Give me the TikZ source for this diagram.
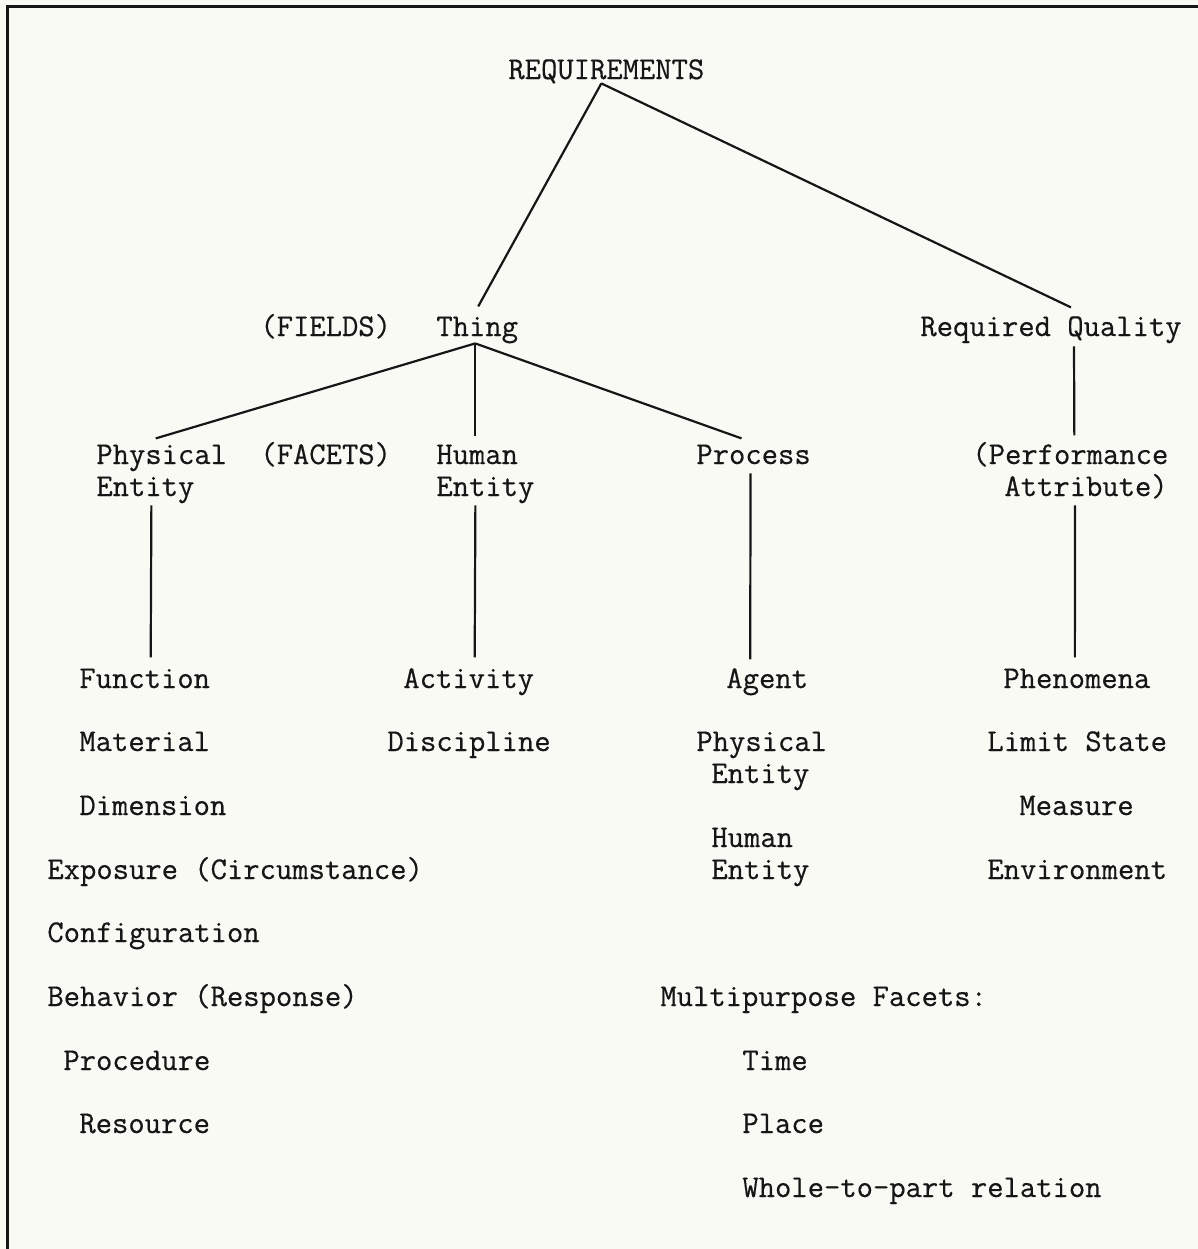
\documentclass[tikz,border=0pt]{standalone}
\usepackage{fontspec}
\newfontfamily\typew[FakeBold=0.5]{Latin Modern Mono}
\definecolor{ink}{RGB}{22,22,22}
\definecolor{paper}{RGB}{250,250,245}
\begin{document}
\begin{tikzpicture}[x=0.5pt,y=-0.5pt,
  lbl/.style={font=\typew\fontsize{15.85pt}{16pt}\selectfont, inner sep=0pt,
    anchor=base west, text height=9.6pt, text depth=0pt, text=ink},
  link/.style={draw=ink, line width=1.1pt},
  frame/.style={draw=ink, line width=1.5pt}]
\fill[paper] (0,0) rectangle (1198,1249);
\useasboundingbox (0,0) rectangle (1198,1249);
\draw[frame] (7,1249) -- (7,6) -- (1198,6);

% top levels
\node[lbl] (req) at (508,79) {REQUIREMENTS};
\node[lbl] (fields) at (260,336) {(FIELDS)};
\node[lbl] (thing) at (436,336) {Thing};
\node[lbl] (rq) at (920,336) {Required Quality};

\node[lbl] (pe1) at (96,464) {Physical};
\node[lbl] (pe2) at (96,496) {Entity};
\node[lbl] (facets) at (260,464) {(FACETS)};
\node[lbl] (he1) at (436,464) {Human};
\node[lbl] (he2) at (436,496) {Entity};
\node[lbl] (proc) at (696,464) {Process};
\node[lbl] (pa1) at (972,464) {(Performance};
\node[lbl] (pa2) at (1004,496) {Attribute)};

% column 1
\node[lbl] (func) at (79,688) {Function};
\node[lbl] (mat) at (79,751) {Material};
\node[lbl] (dim) at (79,815) {Dimension};
\node[lbl] (expo) at (47,879) {Exposure (Circumstance)};
\node[lbl] (conf) at (47,942) {Configuration};
\node[lbl] (beh) at (47,1006) {Behavior (Response)};
\node[lbl] (procd) at (63,1070) {Procedure};
\node[lbl] (res) at (79,1133) {Resource};

% column 2
\node[lbl] (act) at (403,688) {Activity};
\node[lbl] (disc) at (387,751) {Discipline};

% column 3
\node[lbl] (agent) at (726,688) {Agent};
\node[lbl] (ape1) at (696,751) {Physical};
\node[lbl] (ape2) at (711,783) {Entity};
\node[lbl] (ahe1) at (711,847) {Human};
\node[lbl] (ahe2) at (711,879) {Entity};

% column 4
\node[lbl] (phen) at (1003,688) {Phenomena};
\node[lbl] (lim) at (987,751) {Limit State};
\node[lbl] (meas) at (1019,815) {Measure};
\node[lbl] (env) at (987,879) {Environment};

% multipurpose
\node[lbl] (multi) at (660,1006) {Multipurpose Facets:};
\node[lbl] (time) at (742,1070) {Time};
\node[lbl] (place) at (742,1133) {Place};
\node[lbl] (whole) at (742,1197) {Whole-to-part relation};

% connectors
\draw[link] ([shift={(-5,4)}]req.south) -- ([shift={(1,-10)}]thing.north);
\draw[link] ([shift={(-5,4)}]req.south) -- ([shift={(20,-9)}]rq.north);
\draw[link] ([shift={(-2,7)}]thing.south) -- ([shift={(-6,-6)}]pe1.north);
\draw[link] ([shift={(-2,7)}]thing.south) -- ([shift={(-2,-8)}]he1.north);
\draw[link] ([shift={(-2,7)}]thing.south) -- ([shift={(-12,-6)}]proc.north);
\draw[link] ([shift={(23,10)}]rq.south) -- ([shift={(4,-9)}]pa1.north);
\draw[link] ([shift={(6,9)}]pe2.south) -- ([shift={(6,-11)}]func.north);
\draw[link] ([shift={(-10,9)}]he2.south) -- ([shift={(6,-11)}]act.north);
\draw[link] ([shift={(-3,9)}]proc.south) -- ([shift={(-17,-9)}]agent.north);
\draw[link] ([shift={(-11,9)}]pa2.south) -- ([shift={(-2,-11)}]phen.north);
\end{tikzpicture}
\end{document}
